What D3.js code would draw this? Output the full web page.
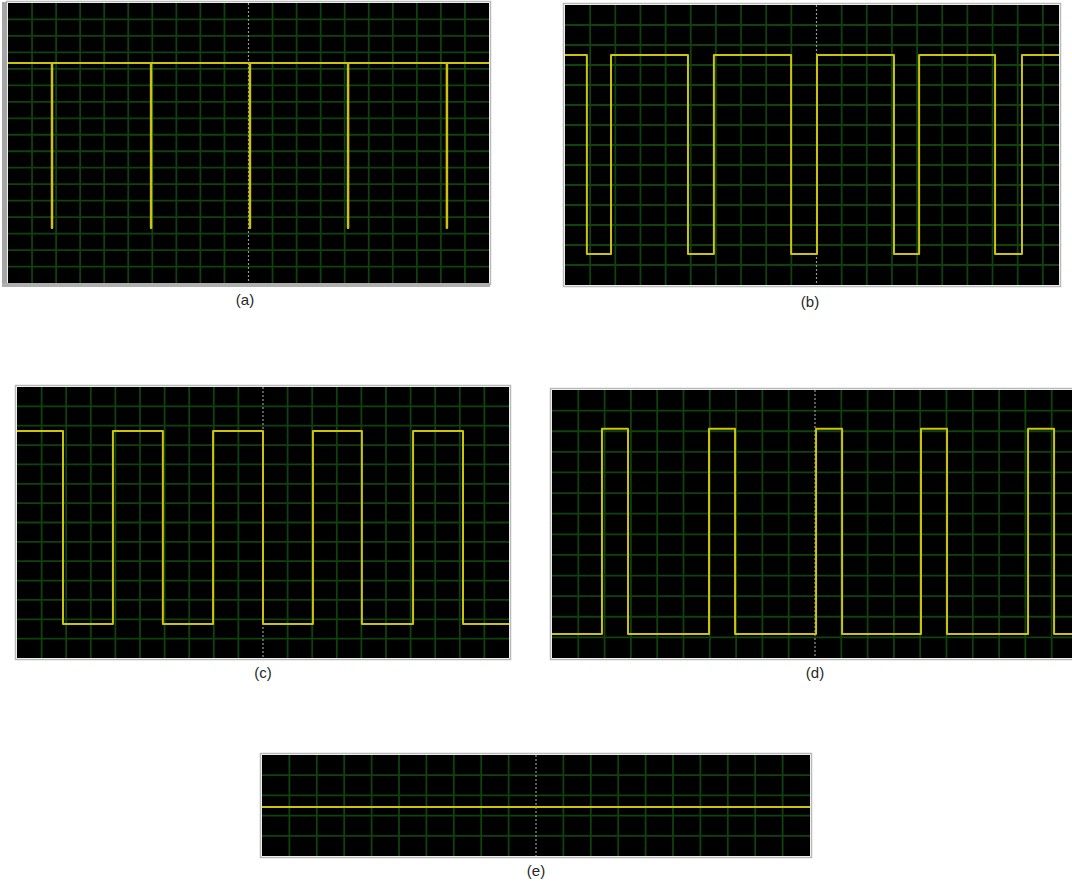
<!DOCTYPE html>
<html>
<head>
<meta charset="utf-8">
<script src="https://cdn.jsdelivr.net/npm/d3@7"></script>
<style>
 body { margin: 0; background: #fff; }
 svg { display: block; }
</style>
</head>
<body>
<svg id="scope" width="1072" height="882"></svg>
<script>
// ---- data, in scope divisions (x: 0..20 across, y: divisions up from the bottom)
var panelNames = ['(a)', '(b)', '(c)', '(d)', '(e)'];

// (a) narrow negative pulses
var spikesA = [1.83, 5.95, 10.06, 14.14, 18.25];
var levelsA = [13.36, 3.34];          // [idle level, pulse level]
// (b) square wave, starts high
var edgesB = [0.87, 1.83, 4.89, 5.92, 8.99, 10.02, 13.08, 14.08, 17.10, 18.17];
var levelsB = [11.5, 1.55];
// (c) square wave, starts high
var edgesC = [1.87, 3.90, 5.93, 7.97, 10.0, 12.03, 14.02, 16.10, 18.13];
var levelsC = [11.73, 1.76];
// (d) narrow positive pulses, starts low
var edgesD = [1.90, 2.89, 5.97, 6.96, 10.04, 11.03, 14.03, 15.02, 18.10, 19.09];
var levelsD = [1.17, 11.12];
// (e) flat line
var edgesE = [];
var levelsE = [2.43, 2.43];

// screen layout of every scope window
// left/top/right/bottom = black area, divs = vertical divisions, clipRight = where picture is cut
var panels = [
 {left: 8,   top: 3,   right: 489,  bottom: 283, divs: 17, clipRight: 489,  label: [245, 305]},
 {left: 565, top: 5,   right: 1068, bottom: 285, divs: 14, clipRight: 1059, label: [810, 307]},
 {left: 17,  top: 387, right: 509,  bottom: 658, divs: 14, clipRight: 509,  label: [263, 678]},
 {left: 552, top: 390, right: 1078, bottom: 658, divs: 13, clipRight: 1072, label: [815, 678]},
 {left: 262, top: 755, right: 810,  bottom: 856, divs: 5,  clipRight: 810,  label: [536, 876]}
];

var lineColor = 'rgb(205, 195, 10)';
var gridColor = 'rgb(16, 66, 14)';

/* builds step points: starts at levels[0], toggles at each edge */
function stepPoints(edges, levels, xEnd)
{
 var pts = [[0, levels[0]]];
 var state = 0;
 edges.forEach(function(e){
  state = 1 - state;
  pts.push([e, levels[state]]);
 });
 pts.push([xEnd, levels[state]]);
 return pts;
}

/* spikes are an edge pair very close together */
function spikeEdges(times, width)
{
 var out = [];
 times.forEach(function(t){ out.push(t - width/2, t + width/2); });
 return out;
}

var signals = [
 stepPoints(spikeEdges(spikesA, 0.02), levelsA, 20),
 stepPoints(edgesB, levelsB, 20),
 stepPoints(edgesC, levelsC, 20),
 stepPoints(edgesD, levelsD, 20),
 stepPoints(edgesE, levelsE, 20)
];

var svg = d3.select('#scope');
var defs = svg.append('defs');

panels.forEach(function(p, i)
{
 var w = p.clipRight - p.left;
 var h = p.bottom - p.top;
 var x = d3.scaleLinear().domain([0, 20]).range([p.left, p.right]);
 var y = d3.scaleLinear().domain([0, p.divs]).range([p.bottom, p.top]);

 defs.append('clipPath').attr('id', 'clip' + i)
  .append('rect')
  .attr('x', p.left).attr('y', p.top)
  .attr('width', w).attr('height', h);

 var g = svg.append('g').attr('class', 'panel');

 // grey frame round the window
 g.append('rect')
  .attr('x', p.left - 1.5).attr('y', p.top - 1.5)
  .attr('width', w + 3).attr('height', h + 3)
  .style('fill', 'none')
  .style('stroke', 'rgb(185, 185, 185)')
  .style('stroke-width', '1.5px');

 g.append('rect')
  .attr('x', p.left).attr('y', p.top)
  .attr('width', w).attr('height', h)
  .style('fill', '#000');

 var inner = g.append('g').attr('clip-path', 'url(#clip' + i + ')');

 // grid
 inner.selectAll('.vgrid').data(d3.range(1, 20).filter(function(d){ return d != 10; }))
  .enter().append('line')
  .attr('x1', function(d){ return x(d); }).attr('x2', function(d){ return x(d); })
  .attr('y1', p.top).attr('y2', p.bottom)
  .style('stroke', gridColor).style('stroke-width', '1.8px');

 inner.selectAll('.hgrid').data(d3.range(1, p.divs))
  .enter().append('line')
  .attr('x1', p.left).attr('x2', p.right)
  .attr('y1', function(d){ return y(d); }).attr('y2', function(d){ return y(d); })
  .style('stroke', gridColor).style('stroke-width', '1.8px');

 // dotted centre line
 inner.append('line')
  .attr('x1', x(10)).attr('x2', x(10))
  .attr('y1', p.top).attr('y2', p.bottom)
  .style('stroke', 'rgb(150, 150, 150)')
  .style('stroke-width', '1.2px')
  .style('stroke-dasharray', '2,2');

 // trace
 var line = d3.line()
  .x(function(d){ return x(d[0]); })
  .y(function(d){ return y(d[1]); })
  .curve(d3.curveStepAfter);

 inner.append('path')
  .datum(signals[i])
  .attr('d', line)
  .style('fill', 'none')
  .style('stroke', lineColor)
  .style('stroke-width', '2px')
  .style('stroke-linejoin', 'round');

 g.append('text')
  .attr('x', p.label[0]).attr('y', p.label[1])
  .attr('text-anchor', 'middle')
  .attr('font-family', 'Liberation Sans, Arial, sans-serif')
  .attr('font-size', 15)
  .style('fill', 'rgb(40, 40, 40)')
  .text(panelNames[i]);
});

// thick grey bar on the left of window (a)
svg.append('rect')
 .attr('x', 2).attr('y', 2).attr('width', 5).attr('height', 285)
 .style('fill', 'rgb(165, 165, 165)');
svg.append('rect')
 .attr('x', 2).attr('y', 283).attr('width', 488).attr('height', 4)
 .style('fill', 'rgb(175, 175, 175)');
</script>
</body>
</html>
